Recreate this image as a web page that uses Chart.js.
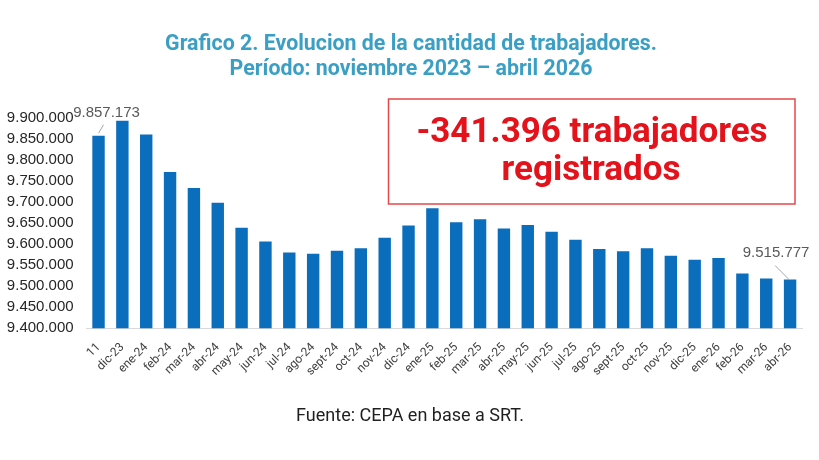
<!DOCTYPE html>
<html>
<head>
<meta charset="utf-8">
<script src="https://cdn.jsdelivr.net/npm/chart.js@4.4.1/dist/chart.umd.min.js"></script>
<style>
  html, body { margin: 0; padding: 0; background: #fff; }
</style>
</head>
<body>
<canvas id="chart" width="819" height="460"></canvas>
<script>
// Data
const months = ["11", "dic-23", "ene-24", "feb-24", "mar-24", "abr-24", "may-24", "jun-24",
  "jul-24", "ago-24", "sept-24", "oct-24", "nov-24", "dic-24", "ene-25", "feb-25", "mar-25",
  "abr-25", "may-25", "jun-25", "jul-25", "ago-25", "sept-25", "oct-25", "nov-25", "dic-25",
  "ene-26", "feb-26", "mar-26", "abr-26"];
const workers = [9857173, 9893000, 9860000, 9771000, 9733000, 9698000, 9639000, 9606000,
  9580000, 9577000, 9584000, 9590000, 9615000, 9644000, 9685000, 9652000, 9659000,
  9637000, 9645000, 9629000, 9610000, 9588000, 9583000, 9590000, 9572000, 9563000,
  9567000, 9530000, 9518000, 9515777];
const labeledBars = [0, 29];
const yMin = 9400000;
const yMax = 9900000;
const yStep = 50000;

const titleLines = ["Grafico 2. Evolucion de la cantidad de trabajadores.",
  "Período: noviembre 2023 – abril 2026"];
const boxLines = ["-341.396 trabajadores", "registrados"];
const footer = "Fuente: CEPA en base a SRT.";

function fmt(n) {
  return String(Math.round(n)).replace(/\B(?=(\d{3})+(?!\d))/g, ".");
}

// texts, callout box and the two value labels
const extras = {
  id: "extras",
  afterDraw(chart) {
    const ctx = chart.ctx;
    ctx.save();

    ctx.fillStyle = "#3a9fc4";
    ctx.font = "bold 22px Roboto";
    ctx.textAlign = "center";
    titleLines.forEach((line, i) => {
      ctx.save();
      ctx.translate(411, 50 + i * 25);
      ctx.scale(0.97, 1);
      ctx.fillText(line, 0, 0);
      ctx.restore();
    });

    ctx.fillStyle = "#1f1f1f";
    ctx.font = "18px Roboto";
    ctx.fillText(footer, 410, 421);

    // callout
    ctx.strokeStyle = "#e8474a";
    ctx.lineWidth = 1.5;
    ctx.strokeRect(388.5, 99, 406.5, 105);
    ctx.fillStyle = "#e3121b";
    ctx.font = "bold 35px Roboto";
    ctx.fillText(boxLines[0], 592, 142);
    ctx.fillText(boxLines[1], 591, 180);

    // value labels with leader lines
    const meta = chart.getDatasetMeta(0);
    ctx.font = "15px 'Liberation Sans'";
    ctx.fillStyle = "#595959";
    ctx.strokeStyle = "#a6a6a6";
    ctx.lineWidth = 1;
    labeledBars.forEach(i => {
      const bar = meta.data[i];
      const txt = fmt(workers[i]);
      ctx.beginPath();
      if (i === 0) {
        ctx.fillText(txt, bar.x + 8, bar.y - 19);
        ctx.moveTo(bar.x, bar.y - 2.5);
        ctx.lineTo(bar.x + 5, bar.y - 11);
      } else {
        ctx.fillText(txt, bar.x - 14, bar.y - 22.5);
        ctx.moveTo(bar.x - 15, bar.y - 14);
        ctx.lineTo(bar.x - 1.5, bar.y - 0.5);
      }
      ctx.stroke();
    });

    ctx.restore();
  }
};

new Chart(document.getElementById("chart"), {
  type: "bar",
  data: {
    labels: months,
    datasets: [{
      label: "Trabajadores",
      data: workers,
      backgroundColor: "#0a6ebd",
      categoryPercentage: 1,
      barPercentage: 0.52
    }]
  },
  options: {
    responsive: false,
    animation: false,
    layout: {
      padding: { top: 117.7, left: 0, right: 17, bottom: 81.7 }
    },
    plugins: {
      legend: { display: false },
      tooltip: { enabled: false }
    },
    scales: {
      x: {
        grid: { display: false, drawTicks: false },
        border: { display: true, color: "#d9d9d9", width: 1 },
        ticks: {
          minRotation: 45,
          maxRotation: 45,
          autoSkip: false,
          padding: 12,
          color: "#404040",
          font: { family: "Roboto", size: 12 }
        },
        afterFit(scale) { scale.height = 50; }
      },
      y: {
        min: yMin,
        max: yMax,
        grid: { display: false, drawTicks: false },
        border: { display: false },
        ticks: {
          stepSize: yStep,
          padding: 13,
          color: "#262626",
          font: { family: "Liberation Sans", size: 15 },
          callback: v => fmt(v)
        },
        afterFit(scale) { scale.width = 86.6; }
      }
    }
  },
  plugins: [extras]
});
</script>
</body>
</html>
